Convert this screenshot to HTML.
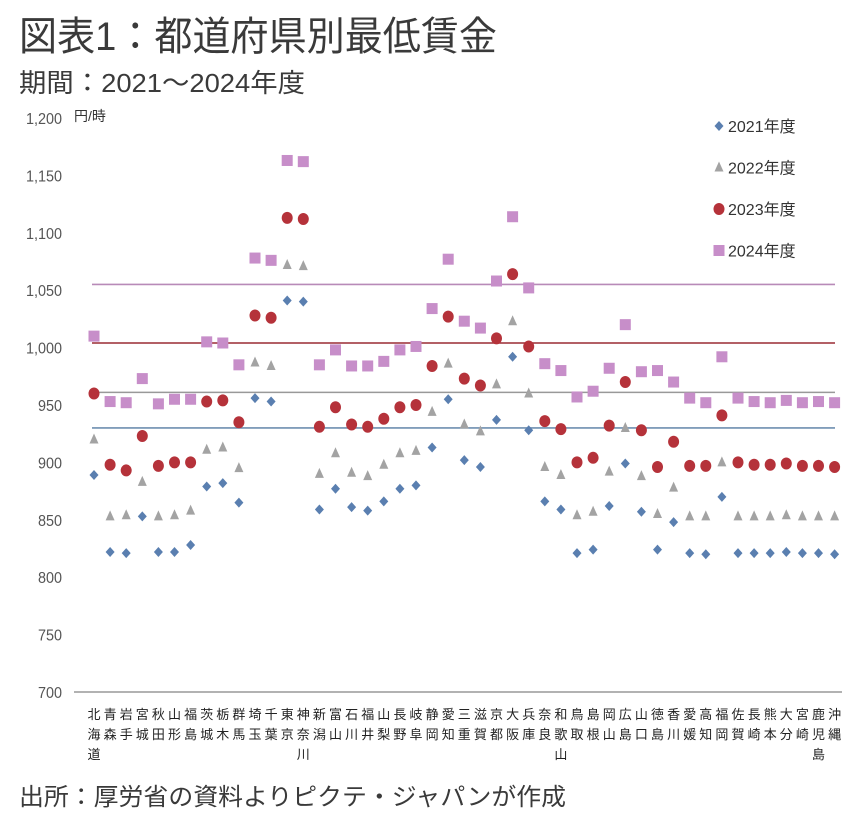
<!DOCTYPE html>
<html><head><meta charset="utf-8">
<style>
body{margin:0;background:#fff;}
svg text{font-family:"Liberation Sans","Noto Sans CJK JP",sans-serif;}
</style></head>
<body>
<svg id="chart" width="850" height="814" viewBox="0 0 850 814" xmlns="http://www.w3.org/2000/svg">
<text x="19" y="50" font-size="40" fill="#3a3a3a" textLength="478" lengthAdjust="spacingAndGlyphs">図表1：都道府県別最低賃金</text>
<text x="19" y="92" font-size="26" fill="#3a3a3a" textLength="286" lengthAdjust="spacingAndGlyphs">期間：2021～2024年度</text>
<text x="74" y="121" font-size="14" fill="#333">円/時</text>
<text x="19" y="805" font-size="24" fill="#3a3a3a" textLength="547" lengthAdjust="spacingAndGlyphs">出所：厚労省の資料よりピクテ・ジャパンが作成</text>
<g id="plot"></g>
</svg>
<script>
const prefectures=["北海道","青森","岩手","宮城","秋田","山形","福島","茨城","栃木","群馬","埼玉","千葉","東京","神奈川","新潟","富山","石川","福井","山梨","長野","岐阜","静岡","愛知","三重","滋賀","京都","大阪","兵庫","奈良","和歌山","鳥取","島根","岡山","広島","山口","徳島","香川","愛媛","高知","福岡","佐賀","長崎","熊本","大分","宮崎","鹿児島","沖縄"];
const wage2021=[889,822,821,853,822,822,828,879,882,865,956,953,1041,1040,859,877,861,858,866,877,880,913,955,902,896,937,992,928,866,859,821,824,862,899,857,824,848,821,820,870,821,821,821,822,821,821,820];
const wage2022=[920,853,854,883,853,854,858,911,913,895,987,984,1072,1071,890,908,891,888,898,908,910,944,986,933,927,968,1023,960,896,889,854,857,892,930,888,855,878,853,853,900,853,853,853,854,853,853,853];
const wage2023=[960,898,893,923,897,900,900,953,954,935,1028,1026,1113,1112,931,948,933,931,938,948,950,984,1027,973,967,1008,1064,1001,936,929,900,904,932,970,928,896,918,897,897,941,900,898,898,899,897,897,896];
const wage2024=[1010,953,952,973,951,955,955,1005,1004,985,1078,1076,1163,1162,985,998,984,984,988,998,1001,1034,1077,1023,1017,1058,1114,1052,986,980,957,962,982,1020,979,980,970,956,952,992,956,953,952,954,952,953,952];
const averages=[930,961,1004,1055];
const yTicks=[700,750,800,850,900,950,1000,1050,1100,1150,1200];
const yTickLabels=["700","750","800","850","900","950","1,000","1,050","1,100","1,150","1,200"];
const seriesNames=["2021年度","2022年度","2023年度","2024年度"];

const NS="http://www.w3.org/2000/svg";
const g=document.getElementById('plot');
const y=v=>692-(v-700)*(692-118)/500;
const x=i=>94+i*16.1;
function mk(t,a){const e=document.createElementNS(NS,t);for(const k in a)e.setAttribute(k,a[k]);g.appendChild(e);return e;}
const colors=["#5a7fb0","#a3a3a3","#b5323a","#c78ec9"];
const lineColors=["#6f8fb0","#999","#9a2b33","#b88ab8"];

yTicks.forEach((v,i)=>{
 const t=mk('text',{x:62,y:y(v)+6,'font-size':16,'text-anchor':'end',fill:'#555',transform:`translate(62 0) scale(0.9 1) translate(-62 0)`});
 
 
 t.textContent=yTickLabels[i];
});
const ax=mk('line',{x1:74,x2:842,y1:692,y2:692,stroke:'#999','stroke-width':1.5});



averages.forEach((v,i)=>{
 const l=mk('line',{x1:92,x2:835,y1:y(v),y2:y(v),stroke:lineColors[i],'stroke-width':1.6});
 
 
});

prefectures.forEach((p,i)=>{
 const chars=p.length===3?[p.slice(0,1),p.slice(1,2),p.slice(2)]:[p[0],p[1]];
 chars.forEach((c,j)=>{
  const t=mk('text',{x:x(i),y:719+j*20,'font-size':13,'text-anchor':'middle',fill:'#222'});
  
  
  t.textContent=c;
 });
});

function marker(s,cx,cy){
 let e;
 if(s===0){e=mk('polygon',{points:`${cx},${cy-5} ${cx+4.5},${cy} ${cx},${cy+5} ${cx-4.5},${cy}`,fill:colors[0]});}
 else if(s===1){e=mk('polygon',{points:`${cx},${cy-6} ${cx+4.5},${cy+4} ${cx-4.5},${cy+4}`,fill:colors[1]});}
 else if(s===2){e=mk('ellipse',{cx:cx,cy:cy,rx:5.5,ry:6,fill:colors[2]});}
 else {e=mk('rect',{x:cx-5.5,y:cy-5.5,width:11,height:11,fill:colors[3]});}
 return e;
}
[wage2021,wage2022,wage2023,wage2024].forEach((arr,s)=>{
 arr.forEach((v,i)=>{
  const m=marker(s,x(i),y(v));
  
  
 });
});

seriesNames.forEach((n,s)=>{
 const ly=126+s*41.5;
 const m=marker(s,719,ly);
 
 
 const t=mk('text',{x:728,y:ly+6,'font-size':16,fill:'#333'});
 
 
 t.textContent=n;
});
</script>
</body></html>
